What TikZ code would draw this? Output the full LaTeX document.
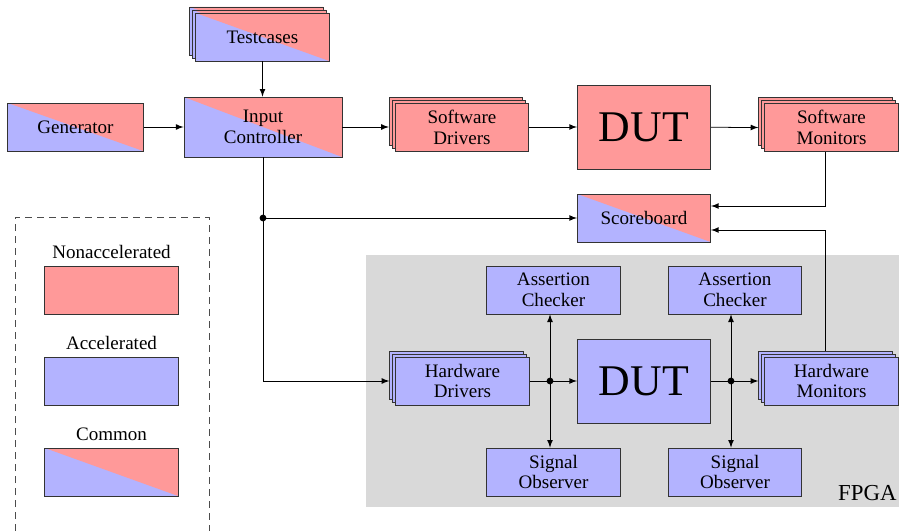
\documentclass[tikz,border=0pt]{standalone}
\usepackage{fontspec}
\setmainfont{Liberation Serif}
\usetikzlibrary{shadows}

\definecolor{nonacc}{HTML}{FF9999}
\definecolor{accel}{HTML}{B3B3FF}
\definecolor{fpgabg}{HTML}{D9D9D9}

\tikzset{
  box/.style={draw=black!80, inner sep=0pt, minimum width=70pt, minimum height=25.2pt,
    align=center, font=\fontsize{10}{11}\selectfont},
  twoline/.style={execute at begin node={\rule{0pt}{9pt}}},
  splitfill/.style={fill=accel, path picture={
    \fill[nonacc] (path picture bounding box.north west) -- (path picture bounding box.north east)
      -- (path picture bounding box.south east) -- cycle;}},
  nonaccbox/.style={box, fill=nonacc},
  accbox/.style={box, fill=accel},
  commonbox/.style={box, splitfill},
  stacked/.style={
    copy shadow={shadow xshift=-3.2pt, shadow yshift=3.2pt, draw=black!80, #1},
    copy shadow={shadow xshift=-1.6pt, shadow yshift=1.6pt, draw=black!80, #1}},
  dutbox/.style={draw=black!80, inner sep=0pt, minimum width=70pt, minimum height=44pt,
    font=\fontsize{23}{27}\selectfont},
  junction/.style={circle, fill=black, inner sep=0pt, minimum size=3.6pt},
  legendtitle/.style={inner sep=3.5pt, font=\fontsize{10}{11}\selectfont},
}

\begin{document}
\begin{tikzpicture}[x=0.525pt, y=-0.525pt, >=latex]
    \useasboundingbox (0,0) rectangle (899,531);

    % FPGA region
    \fill[fpgabg] (366,255) rectangle (899,507);
    \node[anchor=base east, inner sep=0pt, font=\large] (fpga) at (897,500) {FPGA};

    % Software side
    \node[commonbox, stacked={splitfill}] (tests) at (262.5,37) {Testcases};
    \node[commonbox, minimum width=71pt] (gen) at (75.5,127) {Generator};
    \node[commonbox, twoline, minimum width=83pt, minimum height=31.5pt] (input) at (263,127) {Input\\Controller};
    \node[nonaccbox, twoline, stacked={fill=nonacc}] (swdrv) at (462,127) {Software\\Drivers};
    \node[dutbox, fill=nonacc] (swdut) at (644,127) {DUT};
    \node[nonaccbox, twoline, stacked={fill=nonacc}] (swmon) at (831.5,127.5) {Software\\Monitors};
    \node[commonbox] (score) at (644,218) {Scoreboard};

    % Hardware side
    \node[accbox, twoline, stacked={fill=accel}] (hwdrv) at (462.5,381) {Hardware\\Drivers};
    \node[dutbox, fill=accel] (hwdut) at (644,381) {DUT};
    \node[accbox, twoline, stacked={fill=accel}] (hwmon) at (831.5,381) {Hardware\\Monitors};
    \node[accbox, twoline] (chk1) at (553.5,290) {Assertion\\Checker};
    \node[accbox, twoline] (chk2) at (735,290) {Assertion\\Checker};
    \node[accbox, twoline] (obs1) at (553.5,472) {Signal\\Observer};
    \node[accbox, twoline] (obs2) at (735,472) {Signal\\Observer};

    % Legend
    \draw[black!70, dash pattern=on 3.7pt off 2.6pt] (15,531) -- (15,217) -- (209,217) -- (209,531);
    \node[nonaccbox, label={[legendtitle]above:Nonaccelerated}] (lnon) at (111.5,290) {};
    \node[accbox, label={[legendtitle]above:Accelerated}] (lacc) at (111.5,381) {};
    \node[commonbox, label={[legendtitle]above:Common}] (lcom) at (111.5,472) {};

    % Connections
    \draw[->] (tests.south) -- (tests.south |- input.north);
    \draw[->] (gen) -- (input);
    \draw[->] (input) -- ([xshift=-3.2pt]swdrv.west);
    \draw[->] (swdrv) -- (swdut);
    \draw[->] (swdut) -- ([xshift=-3.2pt]swmon.west);
    \draw[->] ([xshift=-3.4pt]swmon.south) |- ([yshift=6.3pt]score.east);
    \draw[->] ([xshift=-3.4pt,yshift=3.2pt]hwmon.north) |- ([yshift=-6.3pt]score.east);

    \coordinate (split) at (input.south |- score.west);
    \draw[->] (input.south) |- ([xshift=-3.2pt]hwdrv.west);
    \draw[->] (split) -- (score);
    \node[junction] (splitdot) at (split) {};

    \coordinate (tapl) at (550,381);
    \coordinate (tapr) at (731,381);
    \draw[->] (hwdrv) -- (hwdut);
    \draw[->] (tapl) -- (tapl |- chk1.south);
    \draw[->] (tapl) -- (tapl |- obs1.north);
    \draw[->] (hwdut) -- ([xshift=-3.2pt]hwmon.west);
    \draw[->] (tapr) -- (tapr |- chk2.south);
    \draw[->] (tapr) -- (tapr |- obs2.north);
    \node[junction] (tapldot) at (tapl) {};
    \node[junction] (taprdot) at (tapr) {};
\end{tikzpicture}
\end{document}
